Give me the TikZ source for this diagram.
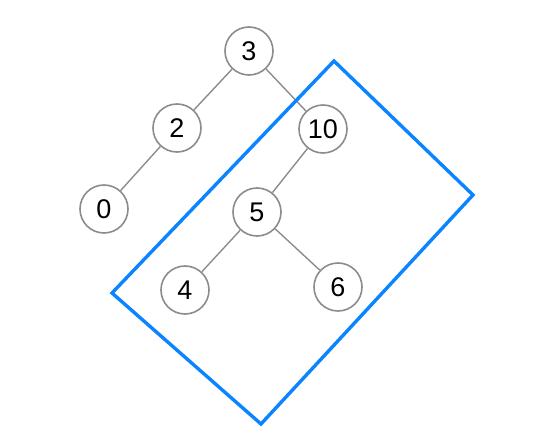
\documentclass[tikz,border=0pt]{standalone}
\usepackage{fontspec}
\setmainfont{Liberation Sans}
\begin{document}
\begin{tikzpicture}[x=1pt,y=-1pt,
  tnode/.style={circle,draw=gray!90,line width=1.6pt,fill=white,minimum size=48pt,inner sep=0pt,font=\fontsize{27}{30}\selectfont},
  tedge/.style={draw=gray!90,line width=1.4pt}]
\useasboundingbox (0,0) rectangle (555,444);
\coordinate (c1) at (334,61);
\coordinate (c2) at (473,195);
\coordinate (c3) at (261,424);
\coordinate (c4) at (112,293);
\node[tnode] (n3) at (249,51) {3};
\node[tnode] (n2) at (177,128) {2};
\node[tnode] (n10) at (323,129) {10};
\node[tnode] (n0) at (104,209) {0};
\node[tnode] (n5) at (257,212) {5};
\node[tnode] (n4) at (185,290) {4};
\node[tnode] (n6) at (338,287) {6};
\draw[tedge] (n3) -- (n2);
\draw[tedge] (n3) -- (n10);
\draw[tedge] (n2) -- (n0);
\draw[tedge] (n10) -- (n5);
\draw[tedge] (n5) -- (n4);
\draw[tedge] (n5) -- (n6);
\draw[draw={rgb,255:red,10;green,132;blue,255},line width=3.4pt] (c1) -- (c2) -- (c3) -- (c4) -- cycle;
\end{tikzpicture}
\end{document}
